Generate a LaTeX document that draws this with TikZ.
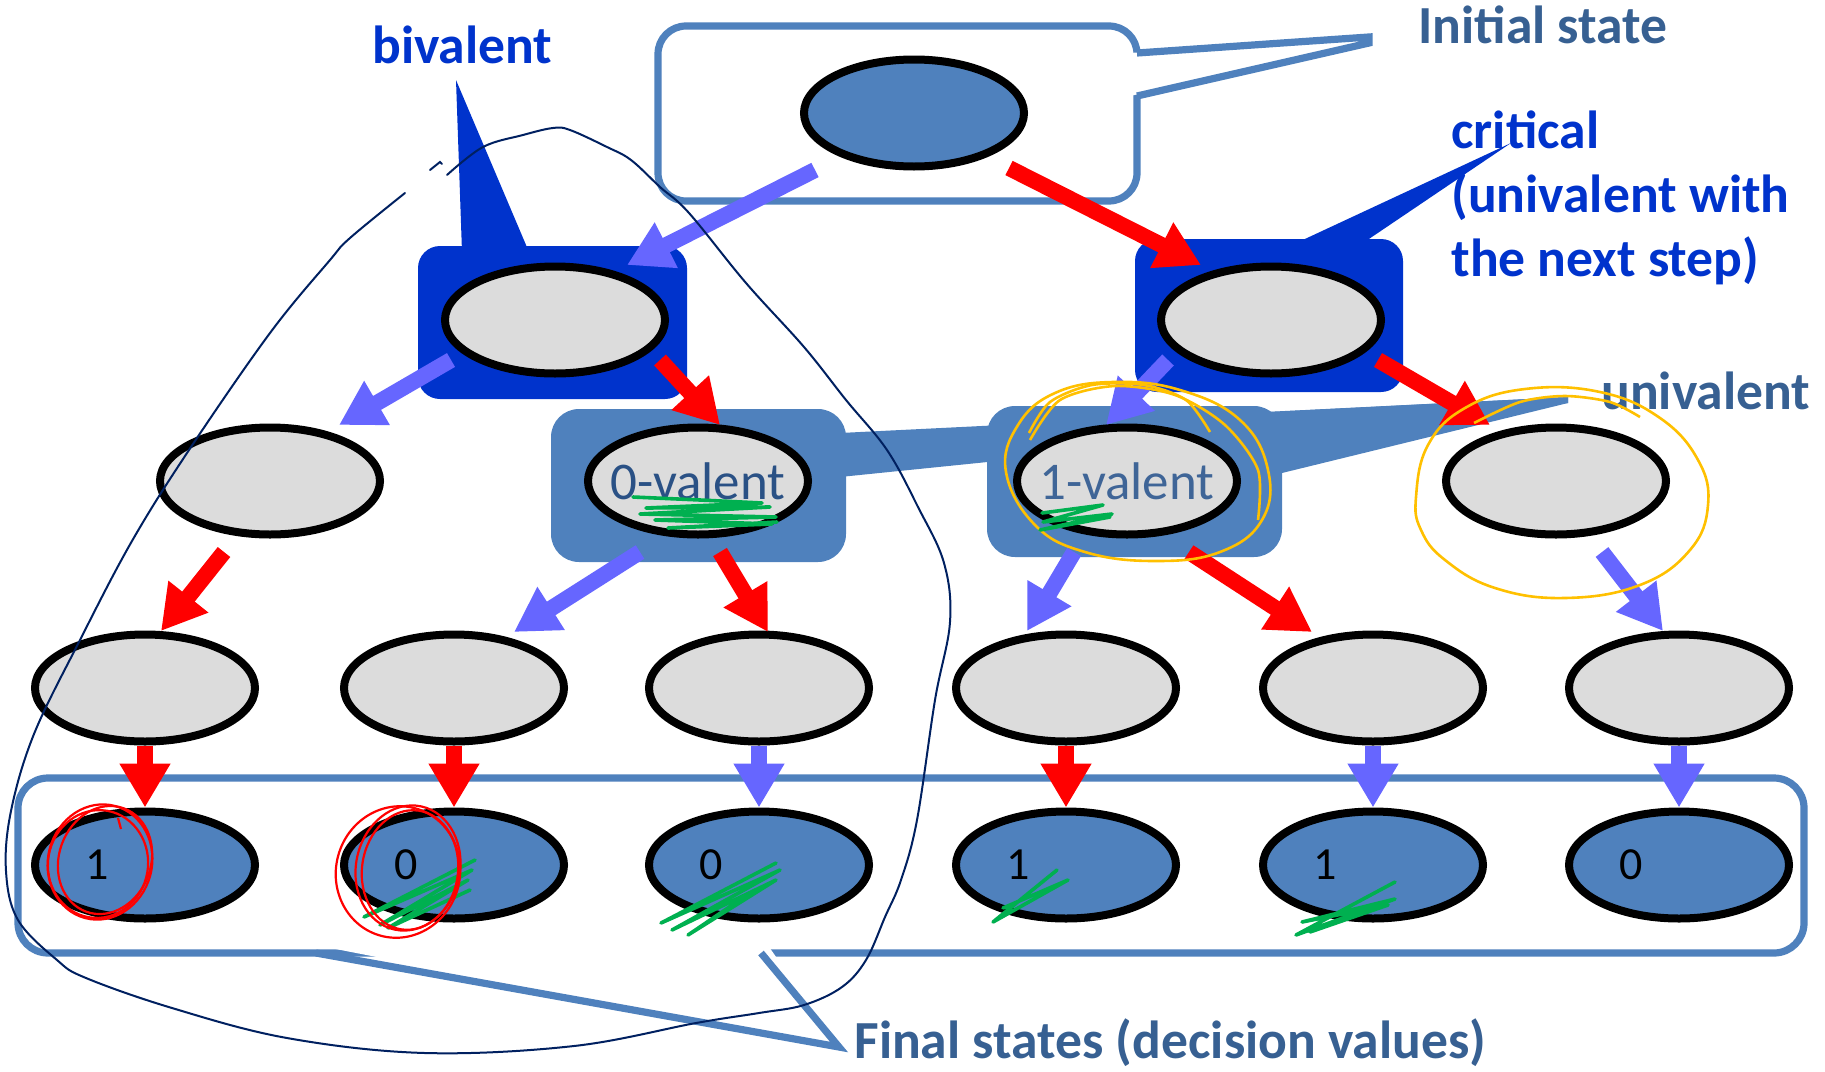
\documentclass[tikz,border=0pt]{standalone}
\usepackage{fontspec}
\setmainfont{Carlito}
\usetikzlibrary{arrows.meta,shapes.geometric}

\definecolor{accent}{HTML}{4F81BD}
\definecolor{deepblue}{HTML}{0033CC}
\definecolor{labelblue}{HTML}{376092}
\definecolor{zerotext}{HTML}{2A5185}
\definecolor{onetext}{HTML}{3F6597}
\definecolor{statefill}{HTML}{DCDCDC}
\definecolor{coolblue}{HTML}{6666FF}
\definecolor{hotred}{HTML}{FF0000}
\definecolor{penyellow}{HTML}{FFC000}
\definecolor{pengreen}{HTML}{00B050}
\definecolor{pennavy}{HTML}{002060}

\begin{document}
\begin{tikzpicture}[x=0.5pt, y=-0.5pt,
  state/.style={ellipse, draw=black, line width=4pt, fill=statefill,
    minimum width=110pt, minimum height=53.5pt, inner sep=0pt},
  final/.style={state, fill=accent},
  zone/.style={rectangle, inner sep=0pt, draw=none},
  frame/.style={rectangle, draw=accent, line width=3.6pt, fill=white, inner sep=0pt},
  tag/.style={inner sep=0pt, font=\bfseries\fontsize{26.8pt}{32pt}\selectfont},
  valence/.style={inner sep=0pt, font=\fontsize{26.5pt}{30pt}\selectfont},
  decision/.style={inner sep=0pt, font=\fontsize{23pt}{28pt}\selectfont},
  move/.style={line width=8pt, -{Triangle[width=24pt,length=22pt]}},
  hotmove/.style={move, draw=hotred},
  coolmove/.style={move, draw=coolblue},
  yellowpen/.style={draw=penyellow, line width=1.3pt},
  greenpen/.style={draw=pengreen, line width=1.8pt, line cap=round, line join=round},
  redpen/.style={draw=hotred, line width=1.1pt},
  navypen/.style={draw=pennavy, line width=1pt, line cap=round},
]
\useasboundingbox (0,0) rectangle (1825,1071);

% ---- callout frames ----
\node[frame, rounded corners=14pt, minimum width=239.5pt, minimum height=87.5pt] (initframe) at (897.5,113.5) {};
\fill[white] (1130,53) -- (1369,37) -- (1369,43) -- (1130,96) -- cycle;
\draw[accent, line width=3.6pt] (1137,53) -- (1369,37) -- (1369,43) -- (1137,96);

\node[frame, rounded corners=15pt, minimum width=893pt, minimum height=87.5pt] (finalframe) at (911,865.5) {};
\fill[white] (310,944) -- (767,944) -- (839,1047) -- cycle;
\draw[accent, line width=3.6pt] (316,953) -- (839,1047) -- (761,953);

% ---- highlighted zones ----
\node[zone, fill=deepblue, rounded corners=11pt, minimum width=134.5pt, minimum height=76.5pt] (bivzone) at (552.5,322.5) {};
\fill[deepblue] (462,252) -- (456,80) -- (529,252) -- cycle;
\node[zone, fill=deepblue, rounded corners=11pt, minimum width=134pt, minimum height=76.5pt] (critzone) at (1269,315.5) {};
\fill[deepblue] (1292,245) -- (1511,143) -- (1360,245) -- cycle;

\fill[accent] (840,433) -- (1568,397) -- (1568,403) -- (840,477) -- cycle;
\fill[accent] (1270,412) -- (1568,397) -- (1568,403) -- (1282,473) -- cycle;
\node[zone, fill=accent, rounded corners=14pt, minimum width=147.5pt, minimum height=76.5pt] (zerozone) at (698.5,485.5) {};
\node[zone, fill=accent, rounded corners=14pt, minimum width=147.5pt, minimum height=75.5pt] (onezone) at (1134.5,481.5) {};

% ---- states ----
\node[final] (init) at (914,113) {};
\node[state] (biv) at (555,320) {};
\node[state] (crit) at (1271,320) {};
\node[state] (m1) at (270,481) {};
\node[state] (m2) at (698,481) {};
\node[state] (m3) at (1127,481) {};
\node[state] (m4) at (1556,481) {};
\foreach \i/\x in {1/145,2/454,3/759,4/1066,5/1373,6/1679}{
  \node[state] (b\i) at (\x,688) {};
  \node[final] (f\i) at (\x,865) {};
}
\foreach \i/\d in {1/1,2/0,3/0,4/1,5/1,6/0}
  \node[decision] (d\i) at ([shift={(-48,0)}]f\i.center) {\d};

\node[valence, text=zerotext] (zerotag) at (m2) {0-valent};
\node[valence, text=onetext] (onetag) at (m3) {1-valent};

% ---- steps ----
\draw[coolmove] ([shift={(-99,57)}]init.center) -- ([shift={(72,-55)}]biv.center);
\draw[hotmove]  ([shift={(95,55)}]init.center) -- ([shift={(-70,-55)}]crit.center);
\draw[coolmove] ([shift={(-104,40)}]biv.center) -- ([shift={(69,-56)}]m1.center);
\draw[hotmove]  ([shift={(105,40)}]biv.center) -- ([shift={(22,-56)}]m2.center);
\draw[coolmove] ([shift={(-103,40)}]crit.center) -- ([shift={(-21,-56)}]m3.center);
\draw[hotmove]  ([shift={(107,40)}]crit.center) -- ([shift={(-66,-56)}]m4.center);
\draw[hotmove]  ([shift={(-46,71)}]m1.center) -- ([shift={(16,-57)}]b1.center);
\draw[coolmove] ([shift={(-58,71)}]m2.center) -- ([shift={(60,-56)}]b2.center);
\draw[hotmove]  ([shift={(22,71)}]m2.center) -- ([shift={(9,-56)}]b3.center);
\draw[coolmove] ([shift={(-53,71)}]m3.center) -- ([shift={(-39,-57)}]b4.center);
\draw[hotmove]  ([shift={(62,71)}]m3.center) -- ([shift={(-61,-56)}]b5.center);
\draw[coolmove] ([shift={(46,71)}]m4.center) -- ([shift={(-16,-57)}]b6.center);
\draw[hotmove]  (b1) -- (f1);
\draw[hotmove]  (b2) -- (f2);
\draw[coolmove] (b3) -- (f3);
\draw[hotmove]  (b4) -- (f4);
\draw[coolmove] (b5) -- (f5);
\draw[coolmove] (b6) -- (f6);

% ---- labels ----
\node[tag, text=deepblue, anchor=base west] (bivlabel) at (372,63) {bivalent};
\node[tag, text=labelblue, anchor=base west] (initlabel) at (1418,43) {Initial state};
% the base anchor of a multi-line node sits on its last line
\node[tag, text=deepblue, anchor=base west, align=left] (critlabel) at (1451,276) {critical\\(univalent with\\the next step)};
\node[tag, text=labelblue, anchor=base west] (univlabel) at (1601,409) {univalent};
\node[tag, text=labelblue, anchor=base west] (finallabel) at (854,1058) {Final states (decision values)};

% ---- pen marks ----
\draw[yellowpen] plot[smooth cycle, tension=0.7] coordinates {(1006,472) (1018,425) (1055,393) (1113,382) (1180,390) (1240,420) (1268,470) (1262,520) (1220,552) (1155,561) (1085,552) (1035,525)};
\draw[yellowpen] plot[smooth] coordinates {(1030,440) (1060,400) (1115,386) (1175,395) (1225,425) (1258,470) (1258,520)};
\draw[yellowpen] plot[smooth] coordinates {(1029,433) (1050,402) (1092,385) (1144,385) (1186,400) (1210,432)};
\draw[yellowpen] plot[smooth cycle, tension=0.7] coordinates {(1416,497) (1428,445) (1465,408) (1525,389) (1600,392) (1660,418) (1698,460) (1708,505) (1690,550) (1640,585) (1565,598) (1495,588) (1445,560) (1421,530)};
\draw[yellowpen] plot[smooth] coordinates {(1474,423) (1520,402) (1565,396) (1610,402) (1640,417)};

\draw[greenpen] (633,497) -- (700,500) -- (762,503) -- (646,508) -- (770,507) -- (640,514) -- (776,517) -- (655,520) -- (772,524) -- (668,528) -- (777,522);
\draw[greenpen] (1042,513) -- (1103,505) -- (1043,522) -- (1112,514) -- (1040,530) -- (1110,517);
\draw[greenpen] (475,860) -- (364,917) -- (472,870) -- (380,925) -- (468,880) -- (388,928) -- (470,890);
\draw[greenpen] (776,863) -- (661,923) -- (780,870) -- (672,930) -- (776,880) -- (688,935) -- (750,893);
\draw[greenpen] (1057,870) -- (993,922) -- (1068,880) -- (1003,908);
\draw[greenpen] (1395,882) -- (1296,935) -- (1395,899) -- (1302,922) -- (1388,905) -- (1310,932);

\draw[redpen, rotate around={-15:(100,862)}] (100,862) ellipse [x radius=52, y radius=58];
\draw[redpen, rotate around={-20:(105,860)}] (105,860) ellipse [x radius=46, y radius=55];
\draw[redpen, rotate around={-10:(98,864)}] (98,864) ellipse [x radius=50, y radius=54];
\draw[redpen] (121,829) -- (118,818);
\draw[redpen, rotate around={-15:(398,872)}] (398,872) ellipse [x radius=62, y radius=66];
\draw[redpen, rotate around={-12:(408,868)}] (408,868) ellipse [x radius=52, y radius=63];
\draw[redpen, rotate around={-8:(410,870)}] (410,870) ellipse [x radius=48, y radius=60];

\draw[navypen] plot[smooth, tension=0.6] coordinates {(447,175) (483,147) (523,135) (553,128) (570,130) (607,147) (631,160) (660,187) (689,213) (746,283) (804,347) (846,400) (887,450) (918,507) (944,563) (950,622) (935,700) (917,820) (901,880) (885,917) (866,960) (842,987) (804,1005) (759,1013) (696,1023) (574,1046) (425,1053) (287,1038) (172,1008) (86,978) (57,960) (18,920) (6,871) (11,811) (34,734) (80,640) (132,541) (189,450) (270,333) (330,260) (350,238) (405,193)};
\draw[navypen] (430,170) -- (440,162) -- (442,164);
\end{tikzpicture}
\end{document}
